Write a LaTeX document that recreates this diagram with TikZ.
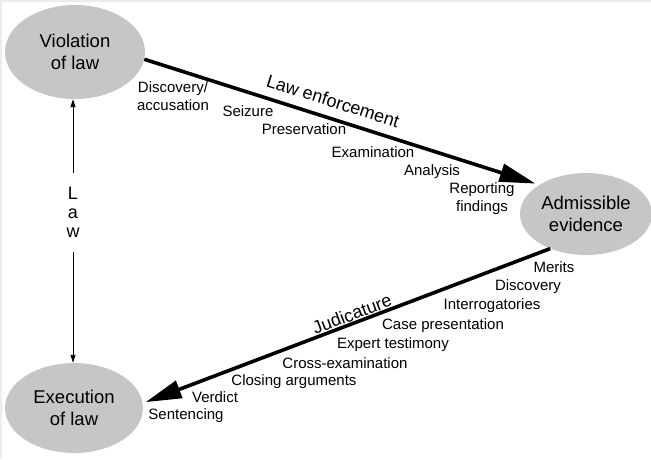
\documentclass[tikz,border=0pt]{standalone}
\usepackage{fontspec}
\setmainfont{Liberation Sans}
\usetikzlibrary{shapes.geometric,arrows.meta}
\definecolor{ovalgray}{RGB}{198,198,198}
\definecolor{edgegray}{RGB}{236,236,236}

\begin{document}
\begin{tikzpicture}[x=1pt,y=1pt,yscale=-1,
  oval/.style={ellipse, fill=ovalgray, inner sep=0pt, align=center, font=\fontsize{18.5}{22}\selectfont},
  stage/.style={font=\fontsize{15}{18}\selectfont, inner sep=0pt, text height=11pt, text depth=3pt},
  stagepair/.style={font=\fontsize{15}{18}\selectfont, inner sep=0pt, align=center},
  phase/.style={font=\fontsize{18}{20}\selectfont, inner sep=0pt},
  flow/.style={line width=3.6pt, -{Triangle[length=36pt,width=18pt]}},
  lawline/.style={line width=0.9pt, -{Triangle[length=8pt,width=5pt]}}]
\useasboundingbox (0,0) rectangle (651,459);
%frame of the scan
\draw[edgegray, line width=2.5pt] (1.2,459) -- (1.2,1.2) -- (651,1.2);

%Shape: Ellipse
\node (viol) [oval, minimum width=140pt, minimum height=94pt] at (75,52) {Violation\\of law};
%Shape: Ellipse
\node (adm) [oval, minimum width=132pt, minimum height=82pt] at (586,214) {Admissible\\evidence};
%Shape: Ellipse
\node (exec) [oval, minimum width=138pt, minimum height=90pt] at (74,408) {Execution\\of law};

% Text Node
\node (law) [font=\fontsize{18}{19}\selectfont, align=center, inner xsep=0pt, inner ysep=14pt] at (73,212.5) {L\\a\\w};

%Straight Lines
\draw[lawline] (law.north) -- (law.north |- viol.south);
\draw[lawline] (law.south) -- (law.south |- exec.north);

%Straight Lines
\draw[flow, shorten >=4pt] (viol.-6) -- (adm.148);
\draw[flow, shorten >=3pt] (adm.224) -- (exec.4);

% Text Node
\node (enf) [phase, rotate=-17.6] at (333,101) {Law enforcement};
% Text Node
\node (jud) [phase, rotate=20.7] at (352,314) {Judicature};

% Text Node
\node (disc) [stagepair] at (173,96) {Discovery/\\accusation};
\node (seiz) [stage] at (248,112) {Seizure};
\node (pres) [stage] at (304,130) {Preservation};
\node (exam) [stage] at (373,153) {Examination};
\node (anal) [stage] at (432,171) {Analysis};
\node (repo) [stagepair] at (482,199) {Reporting\\findings};

% Text Node
\node (meri) [stage] at (554,268) {Merits};
\node (disv) [stage] at (528,286) {Discovery};
\node (intr) [stage] at (492,305) {Interrogatories};
\node (case) [stage] at (443,325) {Case presentation};
\node (expt) [stage] at (393,344) {Expert testimony};
\node (crox) [stage] at (345,364) {Cross-examination};
\node (clos) [stage] at (294,381) {Closing arguments};
\node (verd) [stage] at (215,398) {Verdict};
\node (sent) [stage] at (186,415) {Sentencing};

\end{tikzpicture}
\end{document}
